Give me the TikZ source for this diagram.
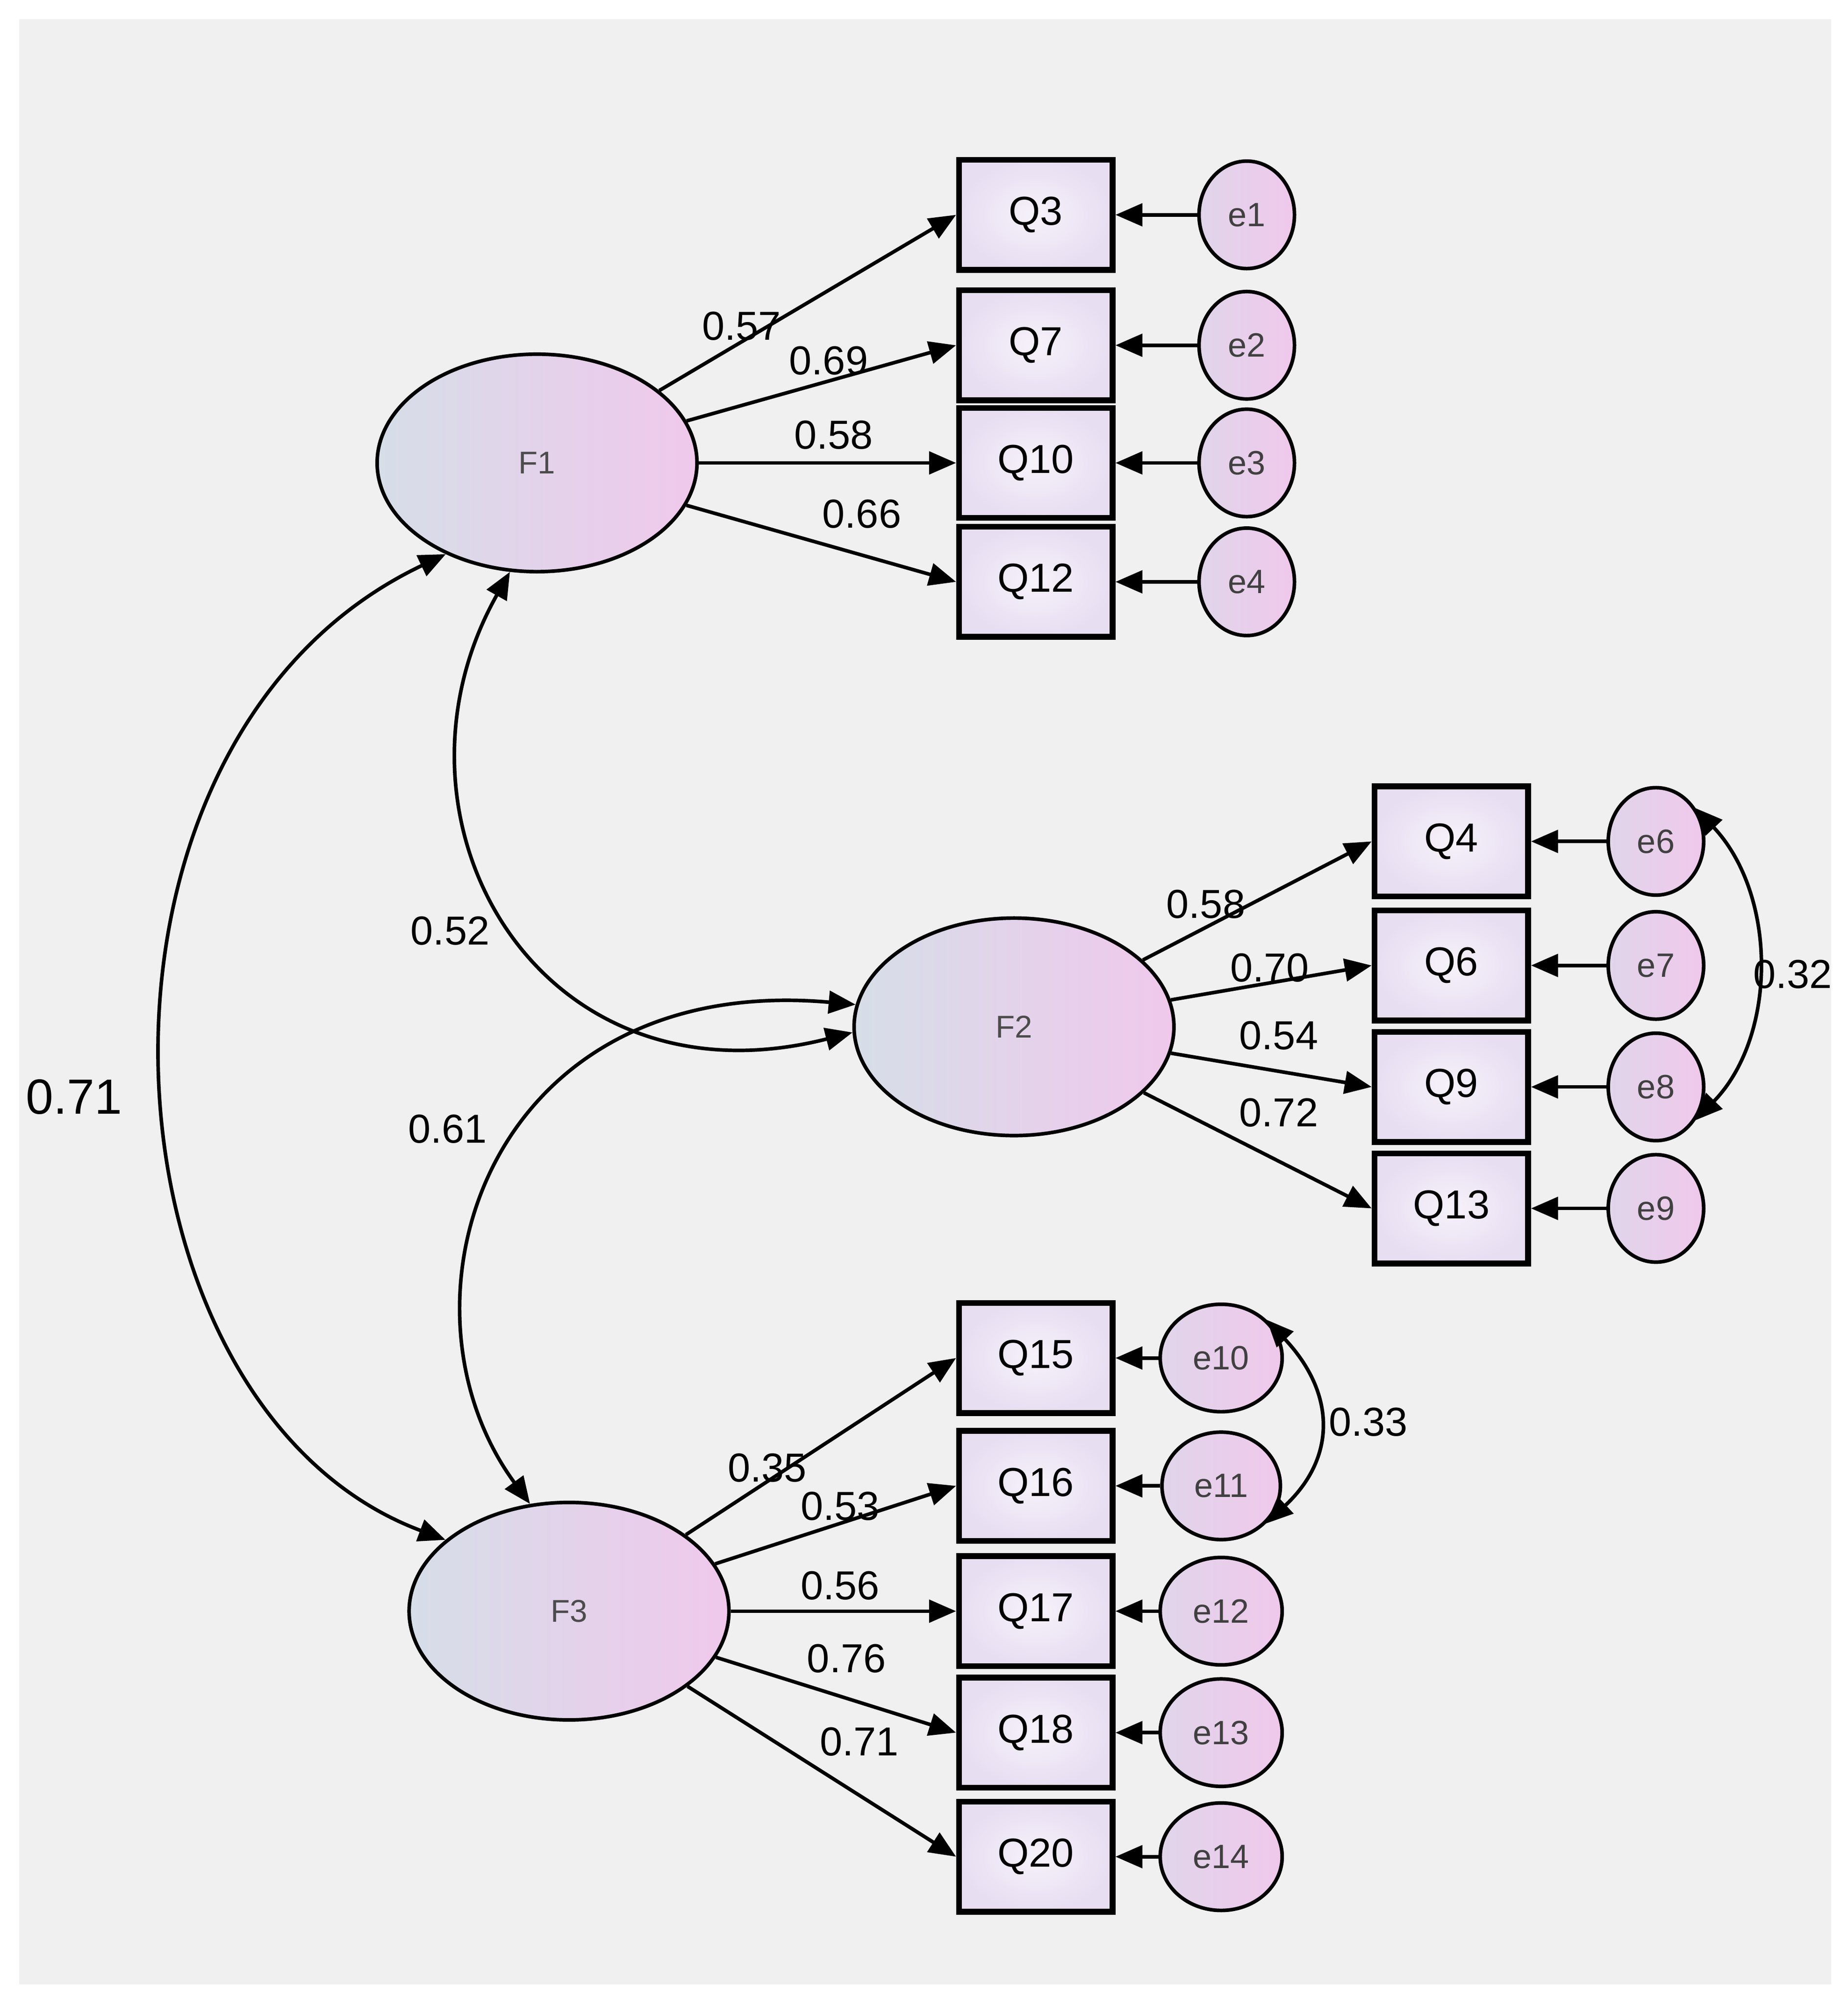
\documentclass[tikz,border=0pt]{standalone}
\usepackage{fontspec}
\setmainfont{Liberation Sans}
\usetikzlibrary{shapes.geometric,arrows.meta}
\definecolor{bg}{RGB}{240,240,240}
\definecolor{lb}{RGB}{214,222,232}
\definecolor{pk}{RGB}{240,200,236}
\definecolor{bx}{RGB}{232,222,242}
\begin{document}
\begin{tikzpicture}[x=0.01cm,y=-0.01cm,
 lat/.style={ellipse,draw,line width=0.8pt,minimum width=2.5cm,minimum height=1.7cm,left color=lb,right color=pk,text=black!70,font=\fontsize{7}{8}\selectfont},
 obs/.style={rectangle,draw,line width=1.3pt,minimum width=1.2cm,minimum height=0.86cm,inner color=white!60!bx,outer color=bx,font=\fontsize{9}{10}\selectfont},
 err/.style={ellipse,draw,line width=0.8pt,minimum width=0.72cm,minimum height=0.84cm,left color=lb!60!pk,right color=pk,text=black!75,font=\fontsize{7.5}{8}\selectfont},
 ar/.style={-{Triangle[length=6pt,width=5pt]},line width=0.8pt},
 br/.style={{Triangle[length=6pt,width=5pt]}-{Triangle[length=6pt,width=5pt]},line width=0.8pt},
 lb/.style={font=\fontsize{9}{10}\selectfont}]
\useasboundingbox (0,0) rectangle (1445,1568);
\fill[white] (0,0) rectangle (1445,1568);
\fill[bg] (15,15) rectangle (1432,1552);
\node[lat] (F1) at (420,362) {F1};
\node[lat] (F2) at (793,803) {F2};
\node[lat] (F3) at (445,1260) {F3};
\foreach \n/\y/\e in {Q3/168/e1,Q7/270/e2,Q10/362/e3,Q12/455/e4}{
 \node[obs] (\n) at (810,\y) {\n};
 \node[err] (\e) at (975,\y) {\e};
 \draw[ar] (\e) -- (\n);
 \draw[ar] (F1) -- (\n.west);}
\foreach \n/\y/\e in {Q4/658/e6,Q6/755/e7,Q9/850/e8,Q13/945/e9}{
 \node[obs] (\n) at (1135,\y) {\n};
 \node[err] (\e) at (1295,\y) {\e};
 \draw[ar] (\e) -- (\n);
 \draw[ar] (F2) -- (\n.west);}
\foreach \n/\y/\e in {Q15/1062/e10,Q16/1162/e11,Q17/1260/e12,Q18/1355/e13,Q20/1452/e14}{
 \node[obs] (\n) at (810,\y) {\n};
 \node[err] (\e) at (955,\y) {\e};
 \draw[ar] (\e) -- (\n);
 \draw[ar] (F3) -- (\n.west);}
\draw[br] (F1.225) .. controls (40,580) and (70,1100) .. (F3.150);
\draw[br] (F1.256) .. controls (290,640) and (420,870) .. (F2.182);
\draw[br] (F2.172) .. controls (380,760) and (300,1020) .. (F3.110);
\draw[br] (e6.40) .. controls (1390,700) and (1390,810) .. (e8.-40);
\draw[br] (e10.40) .. controls (1045,1090) and (1045,1140) .. (e11.-40);
\foreach \t/\x/\y in {0.57/580/255,0.69/648/282,0.58/652/340,0.66/674/402,0.58/943/707,0.70/993/757,0.54/1000/810,0.72/1000/870,0.35/600/1148,0.53/657/1178,0.56/657/1240,0.76/662/1297,0.71/672/1362,0.52/352/728,0.61/350/883,0.32/1402/762,0.33/1070/1112}
 \node[lb] at (\x,\y) {\t};
\node[font=\fontsize{11}{12}\selectfont] at (58,858) {0.71};
\end{tikzpicture}
\end{document}
